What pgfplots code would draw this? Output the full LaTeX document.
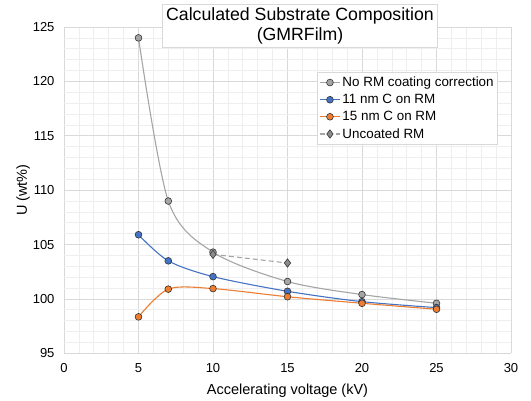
\documentclass[border=0pt]{standalone}
\usepackage{pgfplots}
\pgfplotsset{compat=1.18}
\usepackage{fontspec}
\setmainfont{Liberation Sans}
\definecolor{xgray}{HTML}{A5A5A5}
\definecolor{xblue}{HTML}{4472C4}
\definecolor{xorange}{HTML}{ED7D31}
\definecolor{xdia}{HTML}{8C8C8C}
\definecolor{majgrid}{HTML}{D9D9D9}
\definecolor{mingrid}{HTML}{EEEEEE}
\begin{document}
\begin{tikzpicture}
\useasboundingbox (-64bp,-47.7bp) rectangle (467bp,353.3bp);
\begin{axis}[
  at={(0,0)}, anchor=south west,
  scale only axis, width=447bp, height=326.3bp,
  xmin=0, xmax=30, ymin=95, ymax=125,
  xtick={0,5,...,30}, ytick={95,100,...,125},
  minor x tick num=4, minor y tick num=4,
  grid=both,
  major grid style={draw=majgrid, line width=0.8bp},
  minor grid style={draw=mingrid, line width=0.6bp},
  axis line style={draw=none},
  major tick length=0pt, minor tick length=0pt,
  /pgf/number format/assume math mode=true,
  ticklabel style={font=\fontsize{13bp}{15bp}\selectfont, text=black},
  xticklabel style={yshift=-7bp},
  yticklabel style={xshift=-6bp},
  xlabel={Accelerating voltage (kV)},
  ylabel={U (wt\%)},
  label style={font=\fontsize{14.5bp}{17bp}\selectfont},
  xlabel style={at={(axis description cs:0.5,0)}, anchor=center, yshift=-37.5bp},
  ylabel style={at={(axis description cs:0,0.5)}, anchor=center, yshift=41bp},
  legend cell align=left,
  legend style={at={(0.566,0.862)}, anchor=north west,
    draw=majgrid, line width=0.8bp, fill=white,
    font=\fontsize{13.4bp}{15bp}\selectfont,
    inner xsep=2bp, inner ysep=2.5bp, row sep=2.2bp},
  legend image code/.code={
    \draw[#1,mark repeat=2,mark phase=2] plot coordinates {(0bp,0bp) (10bp,0bp) (20bp,0bp)};
  },
  every axis plot/.append style={line width=1.1bp},
]
\addplot[color=xgray, smooth, mark=*, mark size=3.4bp,
  mark options={fill=xgray, draw=black!80, line width=0.6bp}]
  coordinates {(5,124.0) (7,109.0) (10,104.3) (15,101.6) (20,100.4) (25,99.6)};
\addlegendentry{No RM coating correction}
\addplot[color=xblue, smooth, mark=*, mark size=3.4bp,
  mark options={fill=xblue, draw=black!80, line width=0.6bp}]
  coordinates {(5,105.9) (7,103.5) (10,102.05) (15,100.7) (20,99.75) (25,99.2)};
\addlegendentry{11 nm C on RM}
\addplot[color=xorange, smooth, mark=*, mark size=3.4bp,
  mark options={fill=xorange, draw=black!80, line width=0.6bp}]
  coordinates {(5,98.35) (7,100.9) (10,100.95) (15,100.2) (20,99.6) (25,99.05)};
\addlegendentry{15 nm C on RM}
\addplot[color=xgray, dashed, dash pattern=on 5bp off 3bp, mark=diamond*, mark size=4.2bp,
  mark options={solid, fill=xdia, draw=black!80, line width=0.6bp}]
  coordinates {(10,104.1) (15,103.3)};
\addlegendentry{Uncoated RM}
\end{axis}
\node[draw=majgrid, line width=0.8bp, fill=white, minimum width=274.6bp, minimum height=43bp,
  align=center, inner sep=0pt, font=\fontsize{17.7bp}{20bp}\selectfont]
  at (236bp,327.5bp) {Calculated Substrate Composition\\(GMRFilm)};
\end{tikzpicture}
\end{document}
